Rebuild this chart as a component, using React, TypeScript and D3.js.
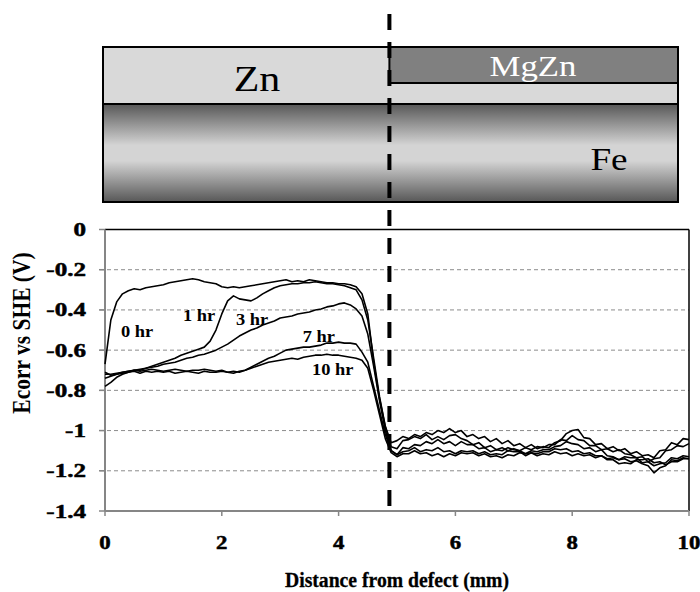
import React from "react";
import * as d3 from "d3";

const DIST = [
  0, 0.1, 0.2, 0.3, 0.4, 0.5, 0.6, 0.7, 0.8, 0.9,
  1, 1.1, 1.2, 1.3, 1.4, 1.5, 1.6, 1.7, 1.8, 1.9,
  2, 2.1, 2.2, 2.3, 2.4, 2.5, 2.6, 2.7, 2.8, 2.9,
  3, 3.1, 3.2, 3.3, 3.4, 3.5, 3.6, 3.7, 3.8, 3.9,
  4, 4.1, 4.2, 4.3, 4.4, 4.5, 4.6, 4.7, 4.8, 4.9,
  5, 5.1, 5.2, 5.3, 5.4, 5.5, 5.6, 5.7, 5.8, 5.9,
  6, 6.1, 6.2, 6.3, 6.4, 6.5, 6.6, 6.7, 6.8, 6.9,
  7, 7.1, 7.2, 7.3, 7.4, 7.5, 7.6, 7.7, 7.8, 7.9,
  8, 8.1, 8.2, 8.3, 8.4, 8.5, 8.6, 8.7, 8.8, 8.9,
  9, 9.1, 9.2, 9.3, 9.4, 9.5, 9.6, 9.7, 9.8, 9.9, 10,
];

const HR0 = [
  -0.67, -0.45, -0.36, -0.32, -0.305, -0.295, -0.3, -0.29, -0.285, -0.28,
  -0.275, -0.265, -0.26, -0.255, -0.25, -0.245, -0.25, -0.26, -0.265, -0.27,
  -0.285, -0.29, -0.285, -0.29, -0.285, -0.28, -0.275, -0.27, -0.265, -0.26,
  -0.255, -0.25, -0.26, -0.255, -0.26, -0.25, -0.255, -0.26, -0.265, -0.265,
  -0.27, -0.27, -0.275, -0.285, -0.32, -0.42, -0.66, -0.84, -0.98, -1.06,
  -1.05, -1.03, -1.04, -1.02, -1.03, -1.01, -1.02, -1.0, -1.01, -0.99,
  -1.01, -1.0, -1.03, -1.02, -1.04, -1.03, -1.055, -1.04, -1.065, -1.05,
  -1.075, -1.065, -1.085, -1.07, -1.09, -1.08, -1.085, -1.06, -1.05, -1.015,
  -1.0, -0.995, -1.035, -1.04, -1.07, -1.065, -1.09, -1.08, -1.1, -1.09,
  -1.115, -1.105, -1.125, -1.12, -1.135, -1.1, -1.095, -1.06, -1.07, -1.04, -1.045,
];

const HR1 = [
  -0.72, -0.72, -0.715, -0.71, -0.705, -0.7, -0.695, -0.69, -0.68, -0.67,
  -0.66, -0.65, -0.64, -0.625, -0.615, -0.605, -0.595, -0.585, -0.555, -0.5,
  -0.42, -0.355, -0.33, -0.345, -0.35, -0.355, -0.34, -0.32, -0.305, -0.29,
  -0.28, -0.275, -0.27, -0.27, -0.265, -0.265, -0.26, -0.265, -0.27, -0.27,
  -0.275, -0.28, -0.29, -0.3, -0.35, -0.45, -0.64, -0.83, -0.98, -1.08,
  -1.09, -1.05, -1.045, -1.03, -1.04, -1.02, -1.045, -1.03, -1.045, -1.025,
  -1.02, -1.04, -1.05, -1.07, -1.06, -1.085, -1.075, -1.095, -1.085, -1.1,
  -1.09, -1.1, -1.085, -1.095, -1.08, -1.085, -1.07, -1.07, -1.045, -1.05,
  -1.025, -1.045, -1.05, -1.075, -1.075, -1.095, -1.09, -1.105, -1.095, -1.115,
  -1.12, -1.135, -1.13, -1.155, -1.14, -1.135, -1.1, -1.095, -1.075, -1.08, -1.065,
];

const HR3 = [
  -0.74, -0.73, -0.72, -0.715, -0.71, -0.7, -0.7, -0.69, -0.685, -0.68,
  -0.67, -0.665, -0.66, -0.65, -0.64, -0.635, -0.625, -0.62, -0.61, -0.6,
  -0.585, -0.57, -0.55, -0.53, -0.515, -0.5, -0.49, -0.475, -0.465, -0.455,
  -0.44, -0.435, -0.43, -0.42, -0.415, -0.41, -0.4, -0.395, -0.385, -0.38,
  -0.37, -0.365, -0.375, -0.395, -0.43, -0.52, -0.68, -0.85, -1.0, -1.1,
  -1.12, -1.085, -1.09, -1.07, -1.075, -1.055, -1.065, -1.045, -1.065, -1.055,
  -1.075, -1.055, -1.07, -1.07, -1.09, -1.085, -1.105, -1.095, -1.1, -1.085,
  -1.095, -1.1, -1.115, -1.1, -1.105, -1.095, -1.095, -1.08, -1.075, -1.055,
  -1.065, -1.07, -1.09, -1.085, -1.105, -1.095, -1.125, -1.13, -1.145, -1.14,
  -1.155, -1.15, -1.165, -1.175, -1.21, -1.185, -1.175, -1.145, -1.15, -1.135, -1.14,
];

const HR7 = [
  -0.71, -0.725, -0.72, -0.71, -0.705, -0.7, -0.705, -0.7, -0.695, -0.7,
  -0.705, -0.7, -0.695, -0.7, -0.705, -0.7, -0.7, -0.695, -0.7, -0.705,
  -0.7, -0.71, -0.705, -0.71, -0.7, -0.685, -0.67, -0.655, -0.64, -0.63,
  -0.615, -0.6, -0.595, -0.59, -0.585, -0.585, -0.58, -0.575, -0.565, -0.565,
  -0.56, -0.565, -0.565, -0.57, -0.61, -0.66, -0.78, -0.9, -1.02, -1.1,
  -1.12, -1.105, -1.1, -1.085, -1.105, -1.095, -1.1, -1.085, -1.105, -1.1,
  -1.115, -1.1, -1.105, -1.1, -1.115, -1.105, -1.12, -1.115, -1.12, -1.1,
  -1.105, -1.105, -1.125, -1.11, -1.115, -1.105, -1.105, -1.09, -1.095, -1.09,
  -1.105, -1.1, -1.115, -1.11, -1.125, -1.125, -1.14, -1.135, -1.145, -1.13,
  -1.135, -1.135, -1.16, -1.155, -1.175, -1.165, -1.16, -1.135, -1.14, -1.125, -1.13,
];

const HR10 = [
  -0.78, -0.76, -0.735, -0.72, -0.71, -0.705, -0.715, -0.705, -0.71, -0.705,
  -0.71, -0.705, -0.715, -0.71, -0.705, -0.71, -0.715, -0.705, -0.71, -0.71,
  -0.705, -0.71, -0.715, -0.705, -0.7, -0.69, -0.68, -0.67, -0.66, -0.655,
  -0.65, -0.645, -0.64, -0.645, -0.635, -0.63, -0.625, -0.625, -0.62, -0.625,
  -0.625, -0.63, -0.635, -0.64, -0.65, -0.69, -0.8, -0.92, -1.04, -1.11,
  -1.13, -1.115, -1.115, -1.1, -1.115, -1.11, -1.125, -1.115, -1.13, -1.115,
  -1.125, -1.11, -1.115, -1.11, -1.125, -1.115, -1.13, -1.125, -1.135, -1.12,
  -1.125, -1.11, -1.115, -1.11, -1.125, -1.115, -1.12, -1.105, -1.115, -1.11,
  -1.125, -1.115, -1.125, -1.12, -1.135, -1.125, -1.145, -1.145, -1.165, -1.16,
  -1.165, -1.145, -1.145, -1.14, -1.16, -1.155, -1.17, -1.155, -1.155, -1.14, -1.14,
];

const SERIES = [HR0, HR1, HR3, HR7, HR10];
const SERIES_LABELS = ["0 hr", "1 hr", "3 hr", "7 hr", "10 hr"];
const LABEL_AT_X = [0.55, 1.61, 2.52, 3.66, 3.9];
const LABEL_AT_Y = [-0.51, -0.43, -0.45, -0.535, -0.7];

const Y_TICKS = [0, -0.2, -0.4, -0.6, -0.8, -1, -1.2, -1.4];
const Y_GRID = [-0.2, -0.4, -0.6, -0.8, -1, -1.2];
const X_TICKS = [0, 2, 4, 6, 8, 10];
const DEFECT_EDGE = 4.87;

const FONT = "'Liberation Serif', 'Times New Roman', serif";

function SText(props: {
  x: number;
  y: number;
  size: number;
  sx: number;
  anchor?: string;
  bold?: boolean;
  heavy?: number;
  fill?: string;
  children: React.ReactNode;
}) {
  return (
    <text
      transform={`translate(${props.x},${props.y}) scale(${props.sx},1)`}
      textAnchor={props.anchor ?? "middle"}
      fontFamily={FONT}
      fontSize={props.size}
      fontWeight={props.bold ? "bold" : "normal"}
      fill={props.fill ?? "#000"}
      stroke={props.heavy ? props.fill ?? "#000" : "none"}
      strokeWidth={props.heavy ?? 0}
    >
      {props.children}
    </text>
  );
}

export default function App() {
  const W = 700;
  const H = 592;
  const x = d3.scaleLinear().domain([0, 10]).range([105, 689]);
  const y = d3.scaleLinear().domain([-1.4, 0]).range([511, 229.5]);
  const line = d3
    .line<number>()
    .x((_, i) => x(DIST[i]))
    .y((d) => y(d));

  const boxL = 103;
  const boxR = 678;
  const topY = 47;
  const mgBot = 83;
  const znBot = 104;
  const feBot = 202;
  const dx = x(DEFECT_EDGE);

  return (
    <svg
      width={W}
      height={H}
      style={{ position: "absolute", left: 0, top: 0, background: "#fff" }}
    >
      <defs>
        <linearGradient id="feGrad" x1="0" y1="0" x2="0" y2="1">
          <stop offset="0" stopColor="#575757" />
          <stop offset="0.42" stopColor="#d4d4d4" />
          <stop offset="0.58" stopColor="#d4d4d4" />
          <stop offset="1" stopColor="#575757" />
        </linearGradient>
      </defs>
      <rect width={W} height={H} fill="#fff" />

      {/* schematic */}
      <rect x={boxL} y={topY} width={boxR - boxL} height={znBot - topY} fill="#d9d9d9" stroke="#000" strokeWidth={2} />
      <rect x={dx} y={topY} width={boxR - dx} height={mgBot - topY} fill="#808080" stroke="#000" strokeWidth={2} />
      <rect x={boxL} y={znBot} width={boxR - boxL} height={feBot - znBot} fill="url(#feGrad)" stroke="#000" strokeWidth={2} />
      <SText x={257} y={91} size={35} sx={1.2}>Zn</SText>
      <SText x={533} y={76} size={30} sx={1.16} fill="#fff">MgZn</SText>
      <SText x={609} y={170} size={31} sx={1.2}>Fe</SText>

      {/* gridlines */}
      {Y_GRID.map((v) => (
        <line key={v} x1={100} x2={689} y1={y(v)} y2={y(v)} stroke="#8c8c8c" strokeWidth={1} strokeDasharray="4 3" />
      ))}

      {/* axes */}
      <line x1={105} x2={689} y1={y(0)} y2={y(0)} stroke="#000" strokeWidth={1.5} />
      <line x1={689} x2={689} y1={y(0)} y2={y(-1.4)} stroke="#000" strokeWidth={1.5} />
      <line x1={105} x2={105} y1={y(0)} y2={y(-1.4)} stroke="#868686" strokeWidth={2} />
      <line x1={105} x2={689} y1={y(-1.4)} y2={y(-1.4)} stroke="#868686" strokeWidth={2} />
      {Y_TICKS.map((v) => (
        <line key={"yt" + v} x1={99} x2={105} y1={y(v)} y2={y(v)} stroke="#868686" strokeWidth={1.5} />
      ))}
      {X_TICKS.map((v) => (
        <line key={"xt" + v} x1={x(v)} x2={x(v)} y1={y(-1.4)} y2={y(-1.4) + 5} stroke="#868686" strokeWidth={1.5} />
      ))}

      {/* tick labels */}
      {Y_TICKS.map((v) => (
        <SText key={"yl" + v} x={86} y={y(v) + 6.5} size={19} sx={1.32} bold heavy={0.5} anchor="end">
          {String(Math.round(v * 10) / 10)}
        </SText>
      ))}
      {X_TICKS.map((v) => (
        <SText key={"xl" + v} x={x(v)} y={549} size={19} sx={1.2} bold heavy={0.5}>
          {String(v)}
        </SText>
      ))}

      {/* curves */}
      {SERIES.map((s, i) => (
        <path key={"s" + i} d={line(s) ?? ""} fill="none" stroke="#000" strokeWidth={1.6} strokeLinejoin="round" />
      ))}
      {SERIES_LABELS.map((t, i) => (
        <SText key={"lab" + i} x={x(LABEL_AT_X[i])} y={y(LABEL_AT_Y[i]) + 5} size={16} sx={1.15} bold>
          {t}
        </SText>
      ))}

      {/* defect boundary dashed line */}
      <line x1={dx} x2={dx} y1={14} y2={508} stroke="#000" strokeWidth={4} strokeDasharray="16 12" />

      {/* axis titles */}
      <SText x={397} y={587} size={20.5} sx={0.96} bold heavy={0.3}>
        Distance from defect (mm)
      </SText>
      <text
        transform={`translate(30,333) scale(1.2,1) rotate(-90)`}
        textAnchor="middle"
        fontFamily={FONT}
        fontSize={21.5}
        fontWeight="bold"
      >
        Ecorr vs SHE (V)
      </text>
    </svg>
  );
}
